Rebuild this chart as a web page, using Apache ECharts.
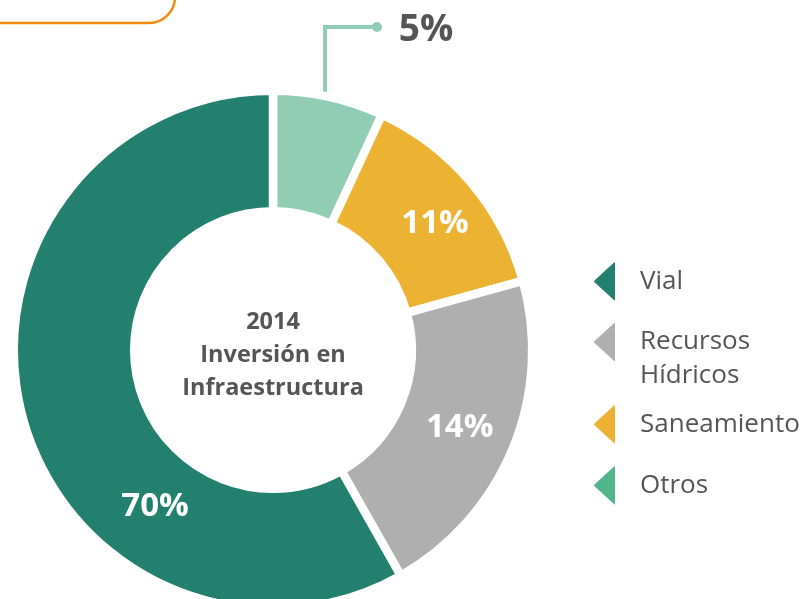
<!DOCTYPE html>
<html><head><meta charset="utf-8">
<script src="https://cdn.jsdelivr.net/npm/echarts@6/dist/echarts.min.js"></script>
<style>html,body{margin:0;padding:0;background:#fff}#c{width:810px;height:599px}</style>
</head><body><div id="c"></div>
<script>
// ---- data ----
const categories = ['Otros', 'Saneamiento', 'Recursos Hídricos', 'Vial'];
const values = [6.9, 13.8, 21.1, 58.2];
const labelTexts = ['5%', '11%', '14%', '70%'];
const centerTitle = ['2014', 'Inversión en', 'Infraestructura'];
const sliceColors = ['#91cdb4', '#ecb332', '#afafaf', '#23806f'];
const legendOrder = ['Vial', 'Recursos Hídricos', 'Saneamiento', 'Otros'];
const legendColors = ['#23806f', '#afafaf', '#ecb332', '#52b48a'];

// ---- chart ----
const chart = echarts.init(document.getElementById('c'), null, {renderer: 'canvas'});
const FONT = '"Open Sans", "Noto Sans", sans-serif';
const CX = 273, CY = 350, BW = 8.5;
const icon = 'path://M22,2 L22,36 Q22,39 19.5,37 L1.5,20.5 Q0,19 1.5,17.5 L19.5,1 Q22,-1 22,2 Z';
const legendTops = [260, 291, 403, 464];

const option = {
  backgroundColor: '#fff',
  animation: false,
  legend: legendOrder.map((name, i) => ({
    orient: 'vertical', left: 592, top: legendTops[i], padding: 0,
    itemWidth: 23, itemHeight: 41, icon: icon, selectedMode: false,
    data: [{name: name, itemStyle: {color: legendColors[i]}}],
    formatter: n => n === 'Recursos Hídricos' ? ' \nRecursos\nHídricos' : n,
    textStyle: {
      fontFamily: FONT, fontSize: 26, fontWeight: 400, color: '#555', lineHeight: 34,
      padding: [0, 0, 0, 19]
    }
  })),
  series: [{
    type: 'pie',
    center: [CX, CY],
    radius: [143 - BW / 2, 255 + BW / 2],
    startAngle: 90,
    clockwise: true,
    avoidLabelOverlap: false,
    silent: true,
    itemStyle: {borderColor: '#fff', borderWidth: BW},
    labelLine: {show: false},
    data: categories.map((c, i) => ({
      name: c, value: values[i],
      itemStyle: {color: sliceColors[i]},
      label: {
        show: true,
        position: i === 0 ? 'outside' : 'inside',
        formatter: labelTexts[i],
        color: i === 0 ? '#555' : '#fff',
        fontFamily: FONT, fontWeight: 'bold',
        fontSize: i === 0 ? 37 : 33,
        align: 'center', verticalAlign: 'middle'
      },
      labelLine: {show: false}
    })),
    labelLayout: function (p) {
      if (p.dataIndex === 0) return {x: 426, y: 30, align: 'center', verticalAlign: 'middle'};
      if (p.dataIndex === 1) return {dx: 8, dy: 4};
      if (p.dataIndex === 3) return {x: 155, y: 507, align: 'center', verticalAlign: 'middle'};
      return {};
    }
  }],
  graphic: [
    {type: 'rect', shape: {x: -30, y: -100, width: 205, height: 123, r: 26}, silent: true,
     style: {fill: 'none', stroke: '#f28c0f', lineWidth: 2.5}},
    {type: 'polyline', silent: true, shape: {points: [[325, 100], [325, 27], [376, 27]]},
     style: {fill: 'none', stroke: sliceColors[0], lineWidth: 4}},
    {type: 'circle', silent: true, shape: {cx: 377, cy: 27, r: 5}, style: {fill: sliceColors[0]}},
    {type: 'text', silent: true, x: CX, y: CY + 5,
     style: {text: centerTitle.join('\n'), fill: '#555', font: 'bold 23.5px ' + FONT,
             textAlign: 'center', textVerticalAlign: 'middle', lineHeight: 33}}
  ]
};
chart.setOption(option);
</script>
</body></html>
